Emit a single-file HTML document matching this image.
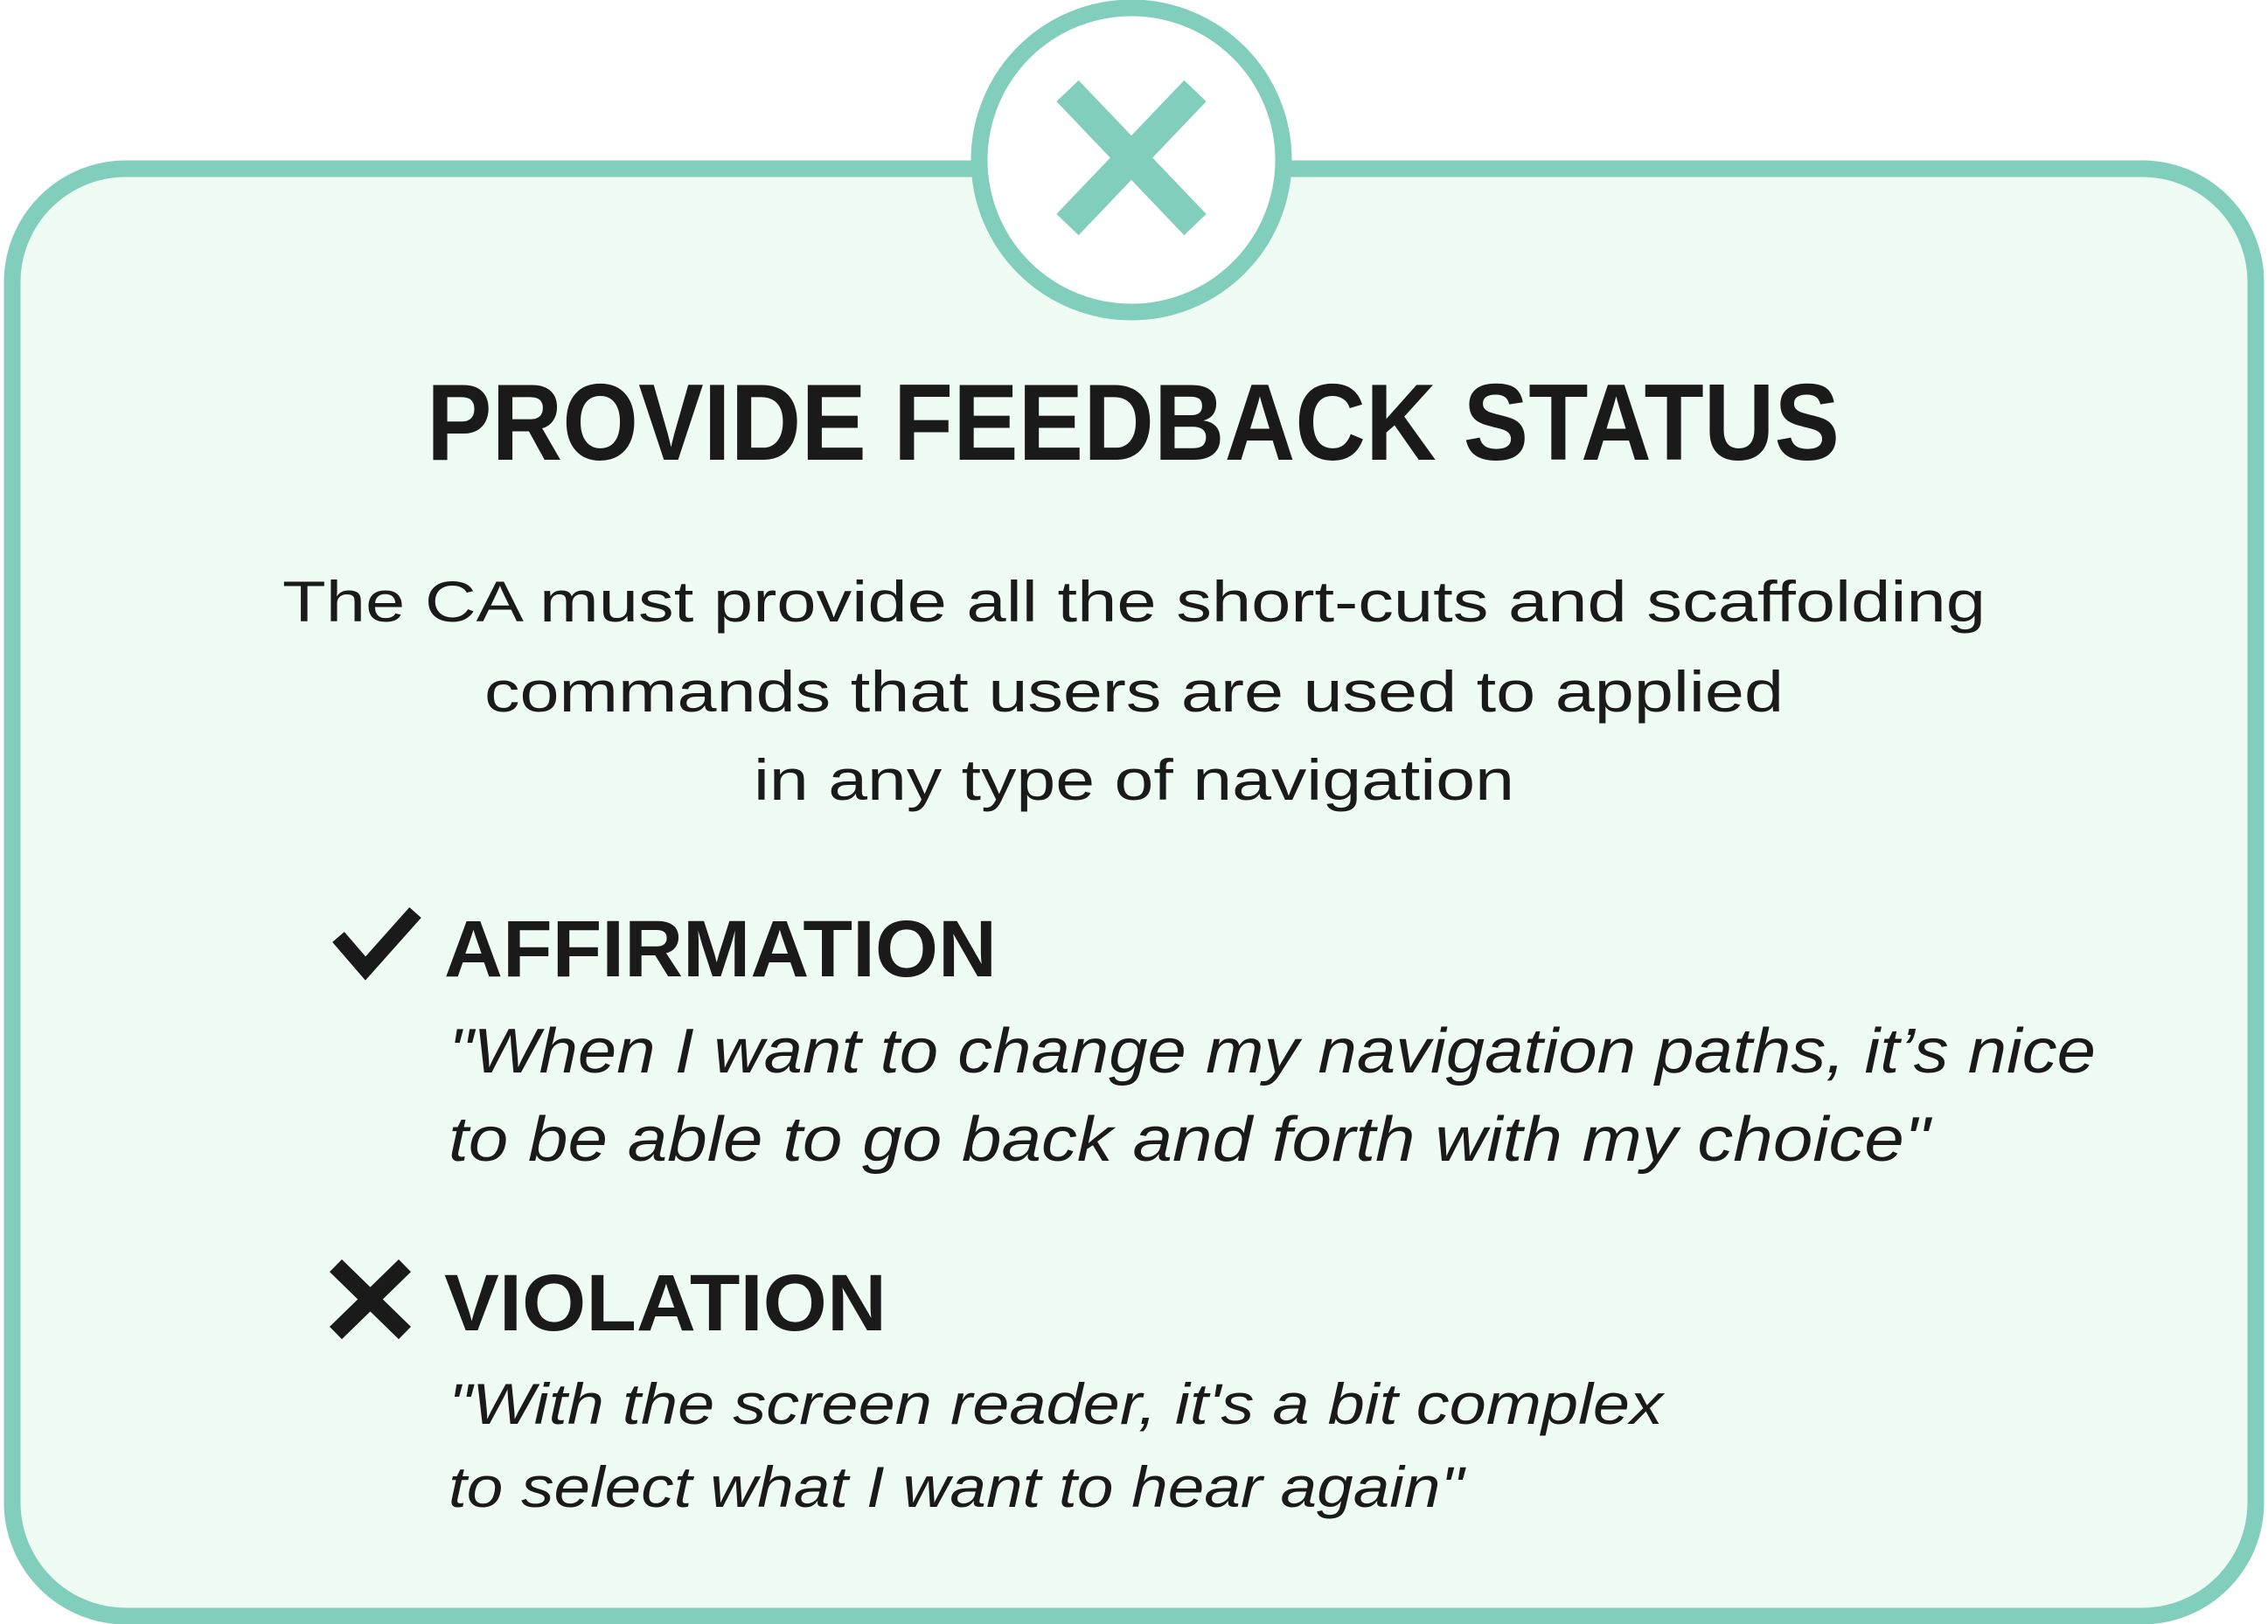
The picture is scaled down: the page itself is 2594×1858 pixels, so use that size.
<!DOCTYPE html>
<html><head><meta charset="utf-8"><style>html,body{margin:0;padding:0;background:#fff}svg{display:block}</style></head>
<body>
<svg width="2594" height="1858" viewBox="0 0 2594 1858" xmlns="http://www.w3.org/2000/svg" font-family="'Liberation Sans', sans-serif" fill="#1a1a1a">
<rect x="14" y="193" width="2566" height="1656" rx="130" fill="#effcf3" stroke="#82cebd" stroke-width="19"/>
<circle cx="1294" cy="183" r="174" fill="#ffffff" stroke="#82cebd" stroke-width="19"/>
<g stroke="#82cebd" stroke-width="35">
<line x1="1221" y1="104" x2="1367" y2="257"/><line x1="1367" y1="104" x2="1221" y2="257"/>
</g>
<text x="488" y="526" font-size="124" font-weight="bold" textLength="1616" lengthAdjust="spacingAndGlyphs">PROVIDE FEEDBACK STATUS</text>
<g font-size="66">
<text x="323" y="711" textLength="1948" lengthAdjust="spacingAndGlyphs">The CA must provide all the short-cuts and scaffolding</text>
<text x="554" y="814" textLength="1486" lengthAdjust="spacingAndGlyphs">commands that users are used to applied</text>
<text x="862" y="915" textLength="870" lengthAdjust="spacingAndGlyphs">in any type of navigation</text>
</g>
<polyline points="387,1072 418,1108 475,1044" fill="none" stroke="#1a1a1a" stroke-width="18"/>
<text x="508" y="1117" font-size="92" font-weight="bold" textLength="632" lengthAdjust="spacingAndGlyphs">AFFIRMATION</text>
<g font-size="72" font-style="italic">
<text x="513" y="1227" textLength="1884" lengthAdjust="spacingAndGlyphs">"When I want to change my navigation paths, it’s nice</text>
<text x="513" y="1328" textLength="1694" lengthAdjust="spacingAndGlyphs">to be able to go back and forth with my choice"</text>
</g>
<g stroke="#1a1a1a" stroke-width="20">
<line x1="384" y1="1448" x2="463" y2="1525"/><line x1="463" y1="1448" x2="384" y2="1525"/>
</g>
<text x="508" y="1522" font-size="92" font-weight="bold" textLength="506" lengthAdjust="spacingAndGlyphs">VIOLATION</text>
<g font-size="66" font-style="italic">
<text x="513" y="1629" textLength="1389" lengthAdjust="spacingAndGlyphs">"With the screen reader, it's a bit complex</text>
<text x="513" y="1724" textLength="1161" lengthAdjust="spacingAndGlyphs">to select what I want to hear again"</text>
</g>
</svg>
</body></html>
